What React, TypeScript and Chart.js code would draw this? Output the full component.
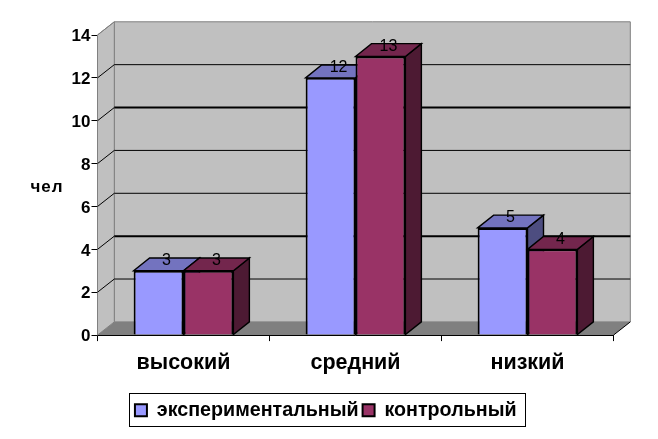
import React, { useEffect, useRef } from "react";
import { Chart, registerables } from "chart.js";

Chart.register(...registerables);

const categories = ["высокий", "средний", "низкий"];
const experimental = [3, 12, 5];
const control = [3, 13, 4];
const thickGridValues = [10, 4];
const yAxisTitle = "чел";

const FONT = "'Liberation Sans', Arial, sans-serif";
const WALL_DX = 16.8;
const WALL_DY = 13.2;
const BAR_DX = 16;
const BAR_DY = 12.8;
const LEGEND_SHIFT = 19;
const faces = [
  { front: "#9999FF", top: "#7373BF", side: "#4D4D80" },
  { front: "#993366", top: "#73264D", side: "#4D1A33" },
];

function poly(ctx: CanvasRenderingContext2D, pts: number[][], fill: string | null, stroke: string | null, lw = 1) {
  ctx.beginPath();
  pts.forEach((p, i) => (i ? ctx.lineTo(p[0], p[1]) : ctx.moveTo(p[0], p[1])));
  ctx.closePath();
  if (fill) {
    ctx.fillStyle = fill;
    ctx.fill();
  }
  if (stroke) {
    ctx.strokeStyle = stroke;
    ctx.lineWidth = lw;
    ctx.stroke();
  }
}

const threeD = {
  id: "threeD",
  afterLayout(chart: any) {
    const l = chart.legend;
    l.left += LEGEND_SHIFT;
    l.right += LEGEND_SHIFT;
    l.adjustHitBoxes();
  },
  beforeDatasetsDraw(chart: any) {
    const { ctx, chartArea: a, scales } = chart;
    const y = scales.y;
    ctx.save();
    // walls and floor
    poly(ctx, [[a.left + WALL_DX, a.top - WALL_DY], [a.right + WALL_DX, a.top - WALL_DY], [a.right + WALL_DX, a.bottom - WALL_DY], [a.left + WALL_DX, a.bottom - WALL_DY]], "#C0C0C0", "#808080");
    poly(ctx, [[a.left, a.top], [a.left + WALL_DX, a.top - WALL_DY], [a.left + WALL_DX, a.bottom - WALL_DY], [a.left, a.bottom]], "#C0C0C0", "#808080");
    poly(ctx, [[a.left, a.bottom], [a.right, a.bottom], [a.right + WALL_DX, a.bottom - WALL_DY], [a.left + WALL_DX, a.bottom - WALL_DY]], "#808080", null);
    // gridlines
    y.ticks.forEach((t: any) => {
      if (t.value === 0) return;
      const py = y.getPixelForValue(t.value);
      const thick = thickGridValues.includes(t.value);
      const top = t.value === y.max;
      ctx.strokeStyle = top ? "#808080" : "#000";
      ctx.lineWidth = 1;
      ctx.beginPath();
      ctx.moveTo(a.left, py);
      ctx.lineTo(a.left + WALL_DX, py - WALL_DY);
      ctx.stroke();
      if (!top) {
        ctx.lineWidth = thick ? 2 : 1;
        ctx.beginPath();
        ctx.moveTo(a.left + WALL_DX, py - WALL_DY);
        ctx.lineTo(a.right + WALL_DX, py - WALL_DY);
        ctx.stroke();
      }
    });
    ctx.strokeStyle = "#000";
    ctx.lineWidth = 1;
    ctx.beginPath();
    ctx.moveTo(a.right, a.bottom);
    ctx.lineTo(a.right + WALL_DX, a.bottom - WALL_DY);
    ctx.stroke();
    // bar tops and sides
    chart.data.datasets.forEach((_: any, di: number) => {
      const f = faces[di];
      chart.getDatasetMeta(di).data.forEach((b: any) => {
        const l = b.x - b.width / 2;
        const r = b.x + b.width / 2;
        poly(ctx, [[r, b.y], [r + BAR_DX, b.y - BAR_DY], [r + BAR_DX, b.base - BAR_DY], [r, b.base]], f.side, "#000", 1.4);
        poly(ctx, [[l, b.y], [l + BAR_DX, b.y - BAR_DY], [r + BAR_DX, b.y - BAR_DY], [r, b.y]], f.top, "#000", 1.4);
      });
    });
    ctx.restore();
  },
  afterDatasetsDraw(chart: any) {
    const { ctx } = chart;
    ctx.save();
    ctx.fillStyle = "#000";
    ctx.font = `16px ${FONT}`;
    ctx.textAlign = "center";
    ctx.textBaseline = "middle";
    chart.data.datasets.forEach((ds: any, di: number) => {
      chart.getDatasetMeta(di).data.forEach((b: any, i: number) => {
        ctx.fillText(String(ds.data[i]), b.x + 8, b.y - 10);
      });
    });
    ctx.restore();
  },
  afterDraw(chart: any) {
    const { ctx, legend } = chart;
    ctx.save();
    ctx.fillStyle = "#000";
    ctx.font = `bold 17px ${FONT}`;
    (ctx as any).letterSpacing = "1px";
    ctx.textAlign = "center";
    ctx.textBaseline = "middle";
    ctx.fillText(yAxisTitle, 47, 187);
    (ctx as any).letterSpacing = "0px";
    const boxes = legend.legendHitBoxes;
    const left = boxes[0].left;
    const last = boxes[boxes.length - 1];
    ctx.strokeStyle = "#000";
    ctx.lineWidth = 1;
    ctx.strokeRect(Math.round(left - 6) + 0.5, 393.5, Math.round(last.left + last.width - left + 14), 33);
    ctx.restore();
  },
};

export default function App() {
  const ref = useRef<HTMLCanvasElement>(null);
  useEffect(() => {
    const chart = new Chart(ref.current!, {
      type: "bar",
      data: {
        labels: categories,
        datasets: [
          { label: "экспериментальный", data: experimental, backgroundColor: faces[0].front, borderColor: "#000", borderWidth: 2 },
          { label: "контрольный", data: control, backgroundColor: faces[1].front, borderColor: "#000", borderWidth: 2 },
        ],
      },
      plugins: [threeD],
      options: {
        animation: false,
        responsive: false,
        devicePixelRatio: 1,
        layout: { padding: { left: 0, right: 44.5, top: 35, bottom: 9 } },
        datasets: { bar: { categoryPercentage: 0.58, barPercentage: 1 } },
        plugins: {
          title: { display: false },
          tooltip: { enabled: false },
          legend: {
            display: true,
            position: "bottom",
            onClick: () => {},
            labels: {
              color: "#000",
              font: { family: FONT, size: 19.7, weight: "bold" },
              boxWidth: 12,
              boxHeight: 12,
              padding: 4,
            },
          },
        },
        scales: {
          x: {
            afterFit: (s: any) => { s.height = 61.2; },
            grid: { drawOnChartArea: false, drawTicks: true, tickLength: 6, color: "#000" },
            border: { color: "#000", width: 1 },
            ticks: { color: "#000", padding: 9, maxRotation: 0, font: { family: FONT, size: 21.5, weight: "bold" } },
          },
          y: {
            min: 0,
            max: 14,
            afterFit: (s: any) => { s.width = 97.5; },
            grid: { drawOnChartArea: false, drawTicks: true, tickLength: 6, color: "#000" },
            border: { color: "#000", width: 1 },
            ticks: {
              stepSize: 2,
              color: "#000",
              padding: 1,
              callback: (v: any) => ["", String(v)],
              font: { family: FONT, size: 17, weight: "bold", lineHeight: 0.18 },
            },
          },
        },
      },
    } as any);
    return () => chart.destroy();
  }, []);
  return (
    <canvas
      ref={ref}
      width={658}
      height={439}
      style={{ position: "absolute", left: 0, top: 0, display: "block" }}
    />
  );
}
